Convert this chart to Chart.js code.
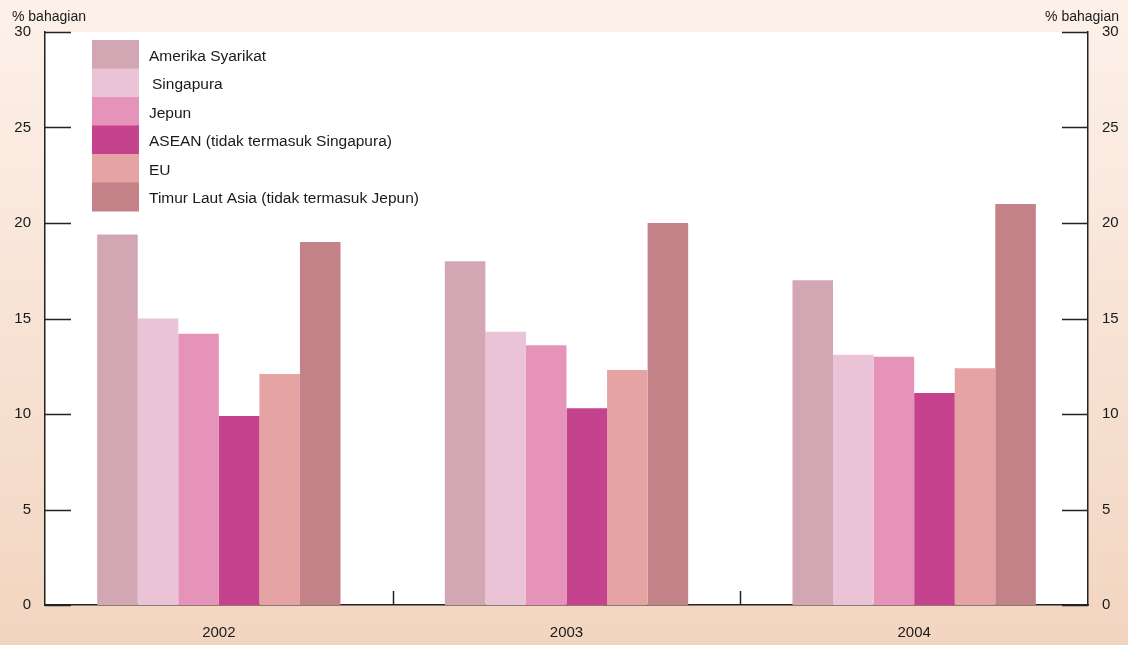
<!DOCTYPE html>
<html>
<head>
<meta charset="utf-8">
<script src="https://cdn.jsdelivr.net/npm/chart.js@4"></script>
<style>
  html, body { margin: 0; padding: 0; }
  #wrap { width: 1128px; height: 645px; position: relative; }
</style>
</head>
<body>
<div id="wrap"><canvas id="eksport"></canvas></div>
<script>
// ---- data ----
var years = ['2002', '2003', '2004'];
var amerika  = [19.4, 18.0, 17.0];
var singapura = [15.0, 14.3, 13.1];
var jepun    = [14.2, 13.6, 13.0];
var asean    = [9.9, 10.3, 11.1];
var eu       = [12.1, 12.3, 12.4];
var timurLaut = [19.0, 20.0, 21.0];
var yTicks = [0, 5, 10, 15, 20, 25, 30];

var FONT = '"Liberation Sans", Arial, sans-serif';
var INK = '#1a1a1a';

// background gradient + white plot area
var backdrop = {
    id: 'backdrop',
    beforeDraw: function (chart) {
        var c = chart.ctx, a = chart.chartArea;
        var g = c.createLinearGradient(0, 0, 0, chart.height);
        g.addColorStop(0, '#fdf1ea');
        g.addColorStop(1, '#f2d5c0');
        c.save();
        c.fillStyle = g;
        c.fillRect(0, 0, chart.width, chart.height);
        c.fillStyle = '#ffffff';
        c.fillRect(a.left, a.top, a.right - a.left, a.bottom - a.top);
        c.restore();
    }
};

// inward ticks, category separators, unit labels, legend
var decor = {
    id: 'decor',
    afterDraw: function (chart) {
        var c = chart.ctx, a = chart.chartArea;
        var y = chart.scales.y, x = chart.scales.x;
        c.save();
        c.strokeStyle = '#222';
        c.lineWidth = 1.5;
        yTicks.forEach(function (v) {
            var py = Math.round(y.getPixelForValue(v)) + 0.5;
            c.beginPath();
            c.moveTo(a.left, py); c.lineTo(a.left + 26, py);
            c.moveTo(a.right, py); c.lineTo(a.right - 26, py);
            c.stroke();
        });
        for (var i = 1; i < years.length; i++) {
            var px = Math.round((x.getPixelForValue(i - 1) + x.getPixelForValue(i)) / 2) + 0.5;
            c.beginPath();
            c.moveTo(px, a.bottom); c.lineTo(px, a.bottom - 14);
            c.stroke();
        }

        c.fillStyle = INK;
        c.font = '14px ' + FONT;
        c.textBaseline = 'middle';
        c.textAlign = 'left';
        c.fillText('% bahagian', 12, 17);
        c.textAlign = 'right';
        c.fillText('% bahagian', 1119, 17);

        // legend
        var lx = 92, ly = 40, rowH = 28.5;
        c.font = '15.5px ' + FONT;
        c.textAlign = 'left';
        chart.data.datasets.forEach(function (ds, k) {
            c.fillStyle = ds.backgroundColor;
            c.fillRect(lx, ly + k * rowH, 47, rowH + 0.5);
            c.fillStyle = INK;
            c.fillText(ds.label, k === 1 ? 152 : 149, ly + k * rowH + rowH / 2 + 2);
        });
        c.restore();
    }
};

function bar(label, values, colour) {
    return { label: label, data: values, backgroundColor: colour, borderWidth: 0 };
}

new Chart(document.getElementById('eksport'), {
    type: 'bar',
    data: {
        labels: years,
        datasets: [
            bar('Amerika Syarikat', amerika, '#d2a7b3'),
            bar('Singapura', singapura, '#eac3d6'),
            bar('Jepun', jepun, '#e693ba'),
            bar('ASEAN (tidak termasuk Singapura)', asean, '#c5428d'),
            bar('EU', eu, '#e5a3a4'),
            bar('Timur Laut Asia (tidak termasuk Jepun)', timurLaut, '#c38288')
        ]
    },
    options: {
        responsive: true,
        maintainAspectRatio: false,
        animation: false,
        layout: { padding: { top: 32, left: 0, right: 0, bottom: 0 } },
        datasets: { bar: { categoryPercentage: 0.7, barPercentage: 1.0 } },
        plugins: { legend: { display: false }, tooltip: { enabled: false } },
        scales: {
            x: {
                grid: { display: false, drawTicks: false },
                border: { display: true, color: '#222', width: 1.5 },
                ticks: { color: INK, font: { family: FONT, size: 15 }, padding: 19 },
                afterFit: function (s) { s.height = 40; }
            },
            y: {
                position: 'left',
                min: 0, max: 30,
                afterBuildTicks: function (s) { s.ticks = yTicks.map(function (v) { return { value: v }; }); },
                grid: { display: false, drawTicks: false },
                border: { display: true, color: '#222', width: 1.5 },
                ticks: { color: INK, font: { family: FONT, size: 15 }, padding: 14 },
                afterFit: function (s) { s.width = 45; }
            },
            y2: {
                position: 'right',
                min: 0, max: 30,
                afterBuildTicks: function (s) { s.ticks = yTicks.map(function (v) { return { value: v }; }); },
                grid: { display: false, drawTicks: false },
                border: { display: true, color: '#222', width: 1.5 },
                ticks: { color: INK, font: { family: FONT, size: 15 }, padding: 14 },
                afterFit: function (s) { s.width = 40; }
            }
        }
    },
    plugins: [backdrop, decor]
});
</script>
</body>
</html>
